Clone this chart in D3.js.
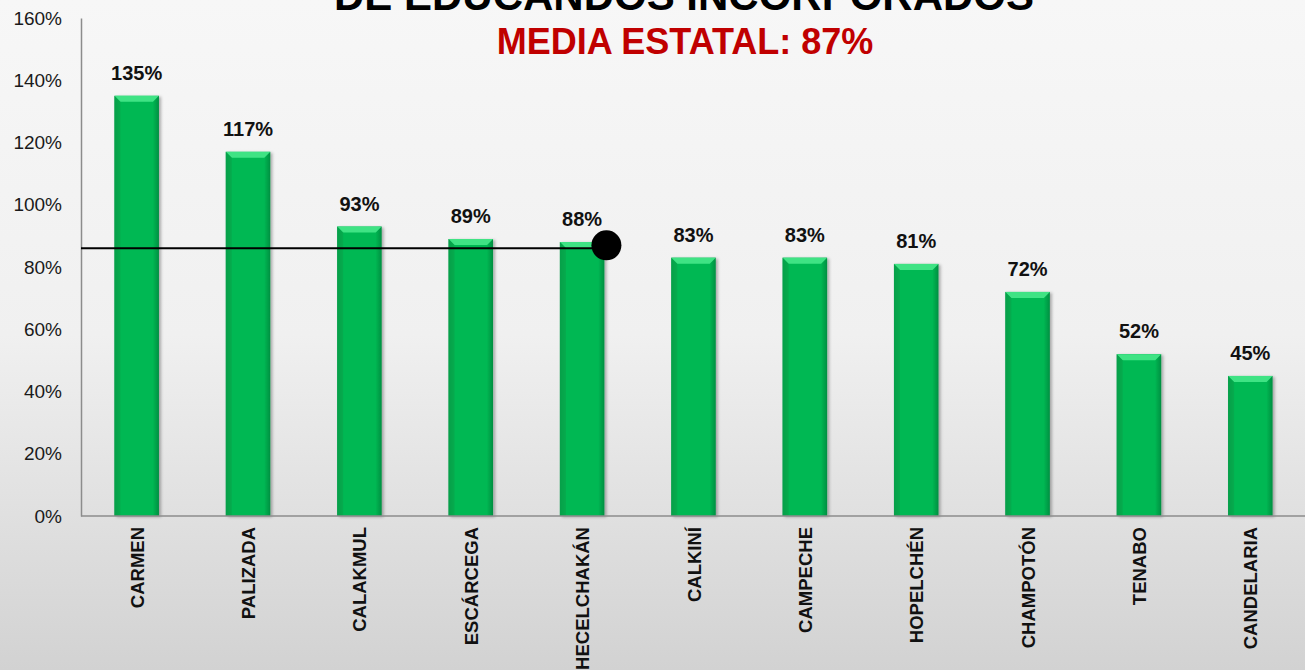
<!DOCTYPE html>
<html>
<head>
<meta charset="utf-8">
<script src="https://cdn.jsdelivr.net/npm/d3@7"></script>
<style>
  html, body { margin: 0; padding: 0; overflow: hidden; }
  body { font-family: Arial, "Liberation Sans", sans-serif; }
</style>
</head>
<body>
<svg id="chart"></svg>
<script>
// datos
const municipios = ["CARMEN", "PALIZADA", "CALAKMUL", "ESCÁRCEGA", "HECELCHAKÁN", "CALKINÍ",
  "CAMPECHE", "HOPELCHÉN", "CHAMPOTÓN", "TENABO", "CANDELARIA"];
const porcentajes = [135, 117, 93, 89, 88, 83, 83, 81, 72, 52, 45];
const yTicks = [0, 20, 40, 60, 80, 100, 120, 140, 160];
const mediaLinea = 86;          // posición de la línea de referencia
const mediaMunicipio = "HECELCHAKÁN";
const titulo = "DE EDUCANDOS INCORPORADOS";
const subtitulo = "MEDIA ESTATAL: 87%";

const width = 1305, height = 670;
const margin = {left: 81, right: -1, top: 18, bottom: 154};

const svg = d3.select("#chart").attr("width", width).attr("height", height);
const defs = svg.append("defs");

// fondo degradado
const bg = defs.append("linearGradient").attr("id", "bg")
  .attr("x1", 0).attr("y1", 0).attr("x2", 0).attr("y2", 1);
bg.append("stop").attr("offset", "0").attr("stop-color", "#f7f7f7");
bg.append("stop").attr("offset", "0.5").attr("stop-color", "#f0f0f0");
bg.append("stop").attr("offset", "1").attr("stop-color", "#d2d2d2");
svg.append("rect").attr("width", width).attr("height", height).attr("fill", "url(#bg)");

// barra verde
const gb = defs.append("linearGradient").attr("id", "barra")
  .attr("x1", 0).attr("y1", 0).attr("x2", 1).attr("y2", 0);
gb.append("stop").attr("offset", "0").attr("stop-color", "#069a46");
gb.append("stop").attr("offset", "0.14").attr("stop-color", "#00b853");
gb.append("stop").attr("offset", "0.86").attr("stop-color", "#00b853");
gb.append("stop").attr("offset", "1").attr("stop-color", "#068f41");

const sombra = defs.append("filter").attr("id", "sombra")
  .attr("x", "-20%").attr("y", "-10%").attr("width", "150%").attr("height", "120%");
sombra.append("feDropShadow").attr("dx", 2).attr("dy", 1).attr("stdDeviation", 1.5)
  .attr("flood-color", "#000").attr("flood-opacity", 0.3);

const x = d3.scaleBand().domain(municipios)
  .range([margin.left, width - margin.right]).paddingInner(0.6).paddingOuter(0.3);
const y = d3.scaleLinear().domain([0, 160]).range([height - margin.bottom, margin.top]);

// eje y
svg.append("g")
  .attr("transform", `translate(${margin.left},0)`)
  .call(d3.axisLeft(y).tickValues(yTicks).tickFormat(d => d + "%").tickSize(0).tickPadding(19))
  .call(g => g.select(".domain").attr("stroke", "#8c8c8c").attr("stroke-width", 1.5))
  .call(g => g.selectAll("text").attr("font-size", 19).attr("fill", "#1a1a1a")
    .attr("font-family", "Arial, 'Liberation Sans', sans-serif"));

// barras
const barras = svg.append("g").selectAll("g").data(municipios).join("g");
barras.append("rect")
  .attr("x", d => x(d))
  .attr("y", (d, i) => y(porcentajes[i]))
  .attr("width", x.bandwidth())
  .attr("height", (d, i) => y(0) - y(porcentajes[i]))
  .attr("fill", "url(#barra)")
  .attr("filter", "url(#sombra)");
barras.append("path")
  .attr("d", (d, i) => {
    const x0 = x(d), x1 = x0 + x.bandwidth(), t = y(porcentajes[i]), b = 6;
    return `M${x0},${t}L${x1},${t}L${x1 - b},${t + b}L${x0 + b},${t + b}Z`;
  })
  .attr("fill", "#3fe384");
barras.append("path")
  .attr("d", (d, i) => {
    const x0 = x(d), x1 = x0 + x.bandwidth(), t = y(porcentajes[i]), b = 6;
    return `M${x0},${t}L${x0 + b},${t + b}L${x0 + b},${y(0)}L${x0},${y(0)}Z`;
  })
  .attr("fill", "#0aa34b").attr("opacity", 0.6);

// etiquetas de valor
svg.append("g").selectAll("text").data(municipios).join("text")
  .attr("x", d => x(d) + x.bandwidth() / 2)
  .attr("y", (d, i) => y(porcentajes[i]) - 16)
  .attr("text-anchor", "middle")
  .attr("font-size", 20).attr("font-weight", "bold").attr("fill", "#111")
  .text((d, i) => porcentajes[i] + "%");

// eje x
svg.append("line")
  .attr("x1", margin.left).attr("x2", width)
  .attr("y1", y(0)).attr("y2", y(0))
  .attr("stroke", "#8c8c8c").attr("stroke-width", 1.5);

svg.append("g").selectAll("text").data(municipios).join("text")
  .attr("transform", d => `translate(${x(d) + x.bandwidth() / 2 + 7},${y(0) + 11}) rotate(-90)`)
  .attr("text-anchor", "end")
  .attr("font-size", 18.5).attr("font-weight", "bold").attr("fill", "#111")
  .text(d => d);

// línea de la media
const xFin = x(mediaMunicipio) + x.bandwidth() + 2;
svg.append("line")
  .attr("x1", margin.left).attr("x2", xFin)
  .attr("y1", y(mediaLinea)).attr("y2", y(mediaLinea))
  .attr("stroke", "#000").attr("stroke-width", 2);
svg.append("circle")
  .attr("cx", xFin).attr("cy", y(mediaLinea) - 3).attr("r", 15)
  .attr("fill", "#000");

// títulos
svg.append("text")
  .attr("x", 684).attr("y", 10)
  .attr("text-anchor", "middle")
  .attr("font-size", 42).attr("font-weight", "bold").attr("fill", "#000")
  .text(titulo);
svg.append("text")
  .attr("x", 685).attr("y", 54)
  .attr("text-anchor", "middle")
  .attr("font-size", 36).attr("font-weight", "bold").attr("fill", "#c00000")
  .text(subtitulo);
</script>
</body>
</html>
